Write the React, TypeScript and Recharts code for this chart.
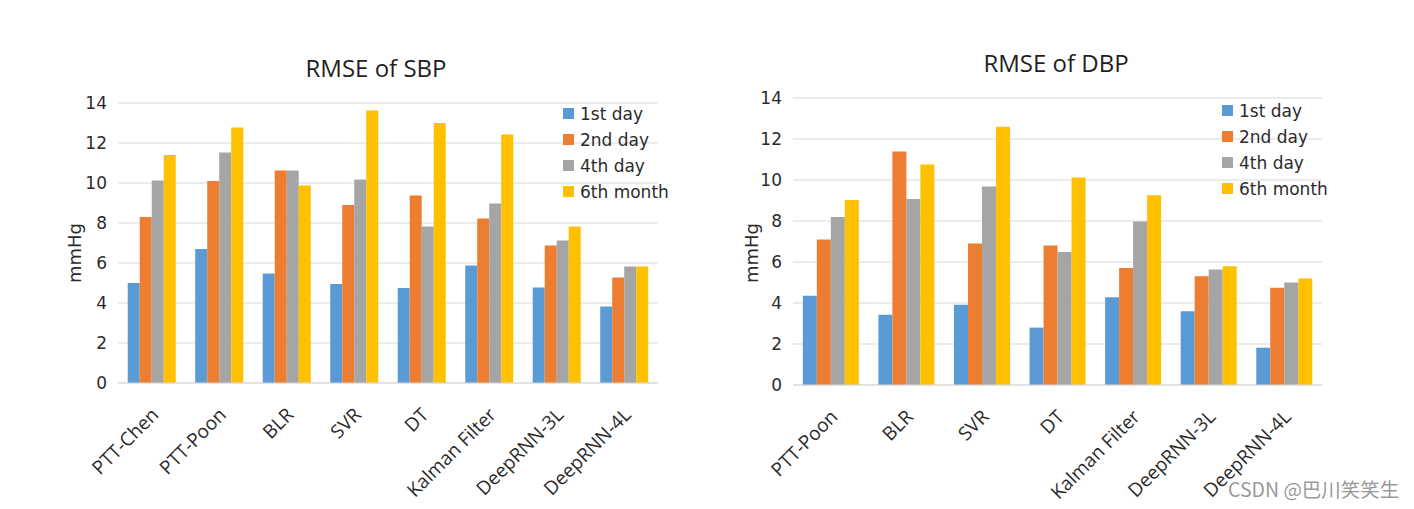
import React from 'react'
import { BarChart, Bar, XAxis, YAxis, CartesianGrid, Legend } from 'recharts'

// Series
const seriesNames = ['1st day', '2nd day', '4th day', '6th month']
const seriesKeys = ['day1', 'day2', 'day4', 'month6']
const seriesColors = ['#5b9bd5', '#ed7d31', '#a5a5a5', '#ffc000']
const yTicks = [0, 2, 4, 6, 8, 10, 12, 14]

// RMSE of SBP
const sbpCategories = ['PTT-Chen', 'PTT-Poon', 'BLR', 'SVR', 'DT', 'Kalman Filter', 'DeepRNN-3L', 'DeepRNN-4L']
const sbpDay1 = [5.0, 6.7, 5.47, 4.95, 4.75, 5.87, 4.78, 3.82]
const sbpDay2 = [8.3, 10.1, 10.62, 8.9, 9.37, 8.22, 6.87, 5.27]
const sbpDay4 = [10.13, 11.53, 10.62, 10.17, 7.82, 8.97, 7.13, 5.82]
const sbpMonth6 = [11.4, 12.77, 9.87, 13.62, 13.0, 12.42, 7.82, 5.82]

// RMSE of DBP
const dbpCategories = ['PTT-Poon', 'BLR', 'SVR', 'DT', 'Kalman Filter', 'DeepRNN-3L', 'DeepRNN-4L']
const dbpDay1 = [4.35, 3.43, 3.91, 2.8, 4.28, 3.6, 1.82]
const dbpDay2 = [7.1, 11.39, 6.9, 6.8, 5.71, 5.31, 4.75]
const dbpDay4 = [8.19, 9.07, 9.68, 6.49, 7.97, 5.63, 5.0]
const dbpMonth6 = [9.02, 10.76, 12.6, 10.12, 9.26, 5.79, 5.19]

const buildRows = (cats: string[], d1: number[], d2: number[], d4: number[], m6: number[]) =>
  cats.map((name, i) => ({ name, day1: d1[i], day2: d2[i], day4: d4[i], month6: m6[i] }))

const sbpData = buildRows(sbpCategories, sbpDay1, sbpDay2, sbpDay4, sbpMonth6)
const dbpData = buildRows(dbpCategories, dbpDay1, dbpDay2, dbpDay4, dbpMonth6)

const TEXT = '#2b2b2b'

const AngledTick = ({ x, y, payload }: any) => (
  <g transform={`translate(${x + 8},${y + 25})`}>
    <text
      x={0}
      y={0}
      textAnchor="end"
      transform="rotate(-45)"
      fill={TEXT}
      fontSize={19}
      fontFamily="'Open Sans', sans-serif"
    >
      {payload.value}
    </text>
  </g>
)

const LegendBox = ({ payload }: any) => (
  <div style={{ fontFamily: "'DejaVu Sans', sans-serif", fontSize: 17, color: TEXT }}>
    {(payload || []).map((entry: any) => (
      <div key={entry.value} style={{ height: 26, lineHeight: '26px', whiteSpace: 'nowrap' }}>
        <span
          style={{
            display: 'inline-block',
            width: 11,
            height: 11,
            background: entry.color,
            marginRight: 6,
            verticalAlign: 'middle',
            position: 'relative',
            top: -1,
          }}
        />
        <span style={{ verticalAlign: 'middle' }}>{entry.value}</span>
      </div>
    ))}
  </div>
)

interface RmseChartProps {
  data: any[]
  width: number
  margin: { top: number; right: number; bottom: number; left: number }
  yWidth: number
  xHeight: number
  gap: string
  legendPos: { left: number; top: number }
}

function RmseChart({ data, width, margin, yWidth, xHeight, gap, legendPos }: RmseChartProps) {
  return (
    <BarChart width={width} height={509} data={data} margin={margin} barCategoryGap={gap} barGap={0}>
      <CartesianGrid vertical={false} stroke="#d9d9d9" />
      <XAxis
        dataKey="name"
        interval={0}
        height={xHeight}
        tickLine={false}
        axisLine={{ stroke: '#d9d9d9' }}
        tick={<AngledTick />}
      />
      <YAxis
        width={yWidth}
        domain={[0, 14]}
        ticks={yTicks}
        axisLine={false}
        tickLine={false}
        tickMargin={5}
        tick={{ fill: TEXT, fontSize: 17, fontFamily: "'DejaVu Sans', sans-serif" }}
      />
      <Legend
        layout="vertical"
        align="center"
        verticalAlign="middle"
        content={<LegendBox />}
        wrapperStyle={{ left: legendPos.left, top: legendPos.top, width: 140 }}
      />
      {seriesKeys.map((key, i) => (
        <Bar key={key} dataKey={key} name={seriesNames[i]} fill={seriesColors[i]} isAnimationActive={false} />
      ))}
    </BarChart>
  )
}

const titleStyle: React.CSSProperties = {
  position: 'absolute',
  fontFamily: "'Open Sans', sans-serif",
  fontSize: 24,
  lineHeight: '24px',
  color: '#1f1f1f',
  whiteSpace: 'nowrap',
  transform: 'translateX(-50%)',
}

const yLabelStyle: React.CSSProperties = {
  position: 'absolute',
  fontFamily: "'DejaVu Sans', sans-serif",
  fontSize: 18,
  lineHeight: '18px',
  color: TEXT,
  whiteSpace: 'nowrap',
  transform: 'translate(-50%, -50%) rotate(-90deg)',
}

export default function App() {
  return (
    <div style={{ position: 'absolute', left: 0, top: 0, width: 1414, height: 509, background: '#fff', overflow: 'hidden' }}>
      <div style={{ position: 'absolute', left: 0, top: 0 }}>
        <RmseChart
          data={sbpData}
          width={700}
          margin={{ top: 103, right: 42, bottom: 0, left: 60 }}
          yWidth={58}
          xHeight={126}
          gap="14.4%"
          legendPos={{ left: 563, top: 100 }}
        />
      </div>
      <div style={{ position: 'absolute', left: 700, top: 0 }}>
        <RmseChart
          data={dbpData}
          width={714}
          margin={{ top: 98, right: 92, bottom: 0, left: 50 }}
          yWidth={43}
          xHeight={124}
          gap="13%"
          legendPos={{ left: 522, top: 97 }}
        />
      </div>

      <div style={{ ...titleStyle, left: 376, top: 56 }}>RMSE of SBP</div>
      <div style={{ ...titleStyle, left: 1056, top: 51 }}>RMSE of DBP</div>

      <div style={{ ...yLabelStyle, left: 75, top: 253 }}>mmHg</div>
      <div style={{ ...yLabelStyle, left: 752, top: 253 }}>mmHg</div>

      <div
        style={{
          position: 'absolute',
          left: 1228,
          top: 478,
          fontFamily: "'Noto Sans CJK SC', sans-serif",
          fontSize: 19.5,
          lineHeight: '22px',
          color: '#9a9a9a',
          whiteSpace: 'nowrap',
          textShadow: '0 0 2px #fff',
        }}
      >
        CSDN @巴川笑笑生
      </div>
    </div>
  )
}
